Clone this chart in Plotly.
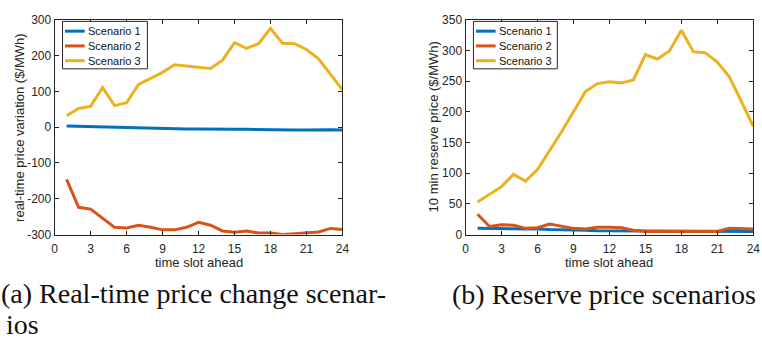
import plotly.graph_objects as go

# ---------------- data ----------------
slots = list(range(1, 25))
series_names = ["Scenario 1", "Scenario 2", "Scenario 3"]
series_colors = ["#0072BD", "#D95319", "#EDB120"]

rt_s1 = [3, 2, 1, 0, -1, -2, -2, -3, -4, -4, -5, -5, -6, -6, -6, -6, -7, -7, -8, -8, -8, -7, -7, -8]
rt_s2 = [-146, -224, -229, -255, -280, -282, -274, -280, -287, -287, -280, -266, -274, -290, -294,
         -290, -296, -296, -300, -298, -296, -293, -283, -286]
rt_s3 = [32, 52, 58, 111, 60, 68, 119, 137, 153, 174, 171, 169, 164, 187, 236, 220, 233, 276,
         234, 233, 217, 191, 148, 104]

res_s1 = [10, 10, 10, 9, 9, 9, 8, 8, 7, 7, 6, 6, 6, 6, 5, 5, 5, 5, 5, 5, 5, 5, 5, 5]
res_s2 = [33, 13, 16, 15, 10, 11, 17, 14, 10, 9, 12, 12, 11, 7, 5, 5, 5, 5, 5, 5, 5, 10, 10, 9]
res_s3 = [53, 66, 78, 98, 87, 106, 136, 167, 200, 233, 246, 249, 247, 252, 293, 286, 299, 333,
          298, 296, 281, 257, 217, 176]

x_ticks = [0, 3, 6, 9, 12, 15, 18, 21, 24]
x_ticktext = ["0", "3", "6", "9", "12", "15", "18", "21", "24"]
rt_ticks = [-300, -200, -100, 0, 100, 200, 300]
rt_ticktext = ["-300", "-200", "-100", "0", "100", "200", "300"]
res_ticks = [0, 50, 100, 150, 200, 250, 300, 350]
res_ticktext = ["0", "50", "100", "150", "200", "250", "300", "350"]

x_title = "time slot ahead"
rt_title = "real-time price variation ($/MWh)"
res_title = "10 min reserve price ($/MWh)"
caption_a1 = "(a) Real-time price change scenar-"
caption_a2 = "ios"
caption_b = "(b) Reserve price scenarios"

# ---------------- layout helpers ----------------
W, H = 762, 339
def px(x):
    return x / W
def py(y):
    return 1 - y / H

AX_TOP, AX_BOT = 13.3, 237.3
L_LEFT, L_RIGHT = 52.3, 344.0
R_LEFT, R_RIGHT = 468.7, 760.3

fig = go.Figure()

for vals, name, col in zip([rt_s1, rt_s2, rt_s3], series_names, series_colors):
    fig.add_trace(go.Scatter(x=slots, y=vals, mode="lines", name=name,
                             line=dict(color=col, width=3), xaxis="x", yaxis="y",
                             showlegend=False))
for vals, name, col in zip([res_s1, res_s2, res_s3], series_names, series_colors):
    fig.add_trace(go.Scatter(x=slots, y=vals, mode="lines", name=name,
                             line=dict(color=col, width=3), xaxis="x2", yaxis="y2",
                             showlegend=False))

tick_font = dict(family="Liberation Sans", size=12, color="#262626")
common = dict(showline=True, linecolor="#262626", linewidth=1, mirror="ticks",
              ticks="inside", ticklen=4, tickcolor="#262626", showgrid=False,
              zeroline=False, tickfont=tick_font, fixedrange=True)

fig.update_layout(
    width=W, height=H,
    margin=dict(l=0, r=0, t=0, b=0),
    paper_bgcolor="white", plot_bgcolor="white",
    showlegend=False,
    xaxis=dict(domain=[px(L_LEFT), px(L_RIGHT)], range=[0, 24], tickvals=x_ticks,
               ticktext=x_ticktext, anchor="y", ticklabelstandoff=3, **common),
    yaxis=dict(domain=[py(AX_BOT), py(AX_TOP)], range=[-300, 300], tickvals=rt_ticks,
               ticktext=rt_ticktext, anchor="x", **common),
    xaxis2=dict(domain=[px(R_LEFT), px(R_RIGHT)], range=[0, 24], tickvals=x_ticks,
                ticktext=x_ticktext, anchor="y2", ticklabelstandoff=3, **common),
    yaxis2=dict(domain=[py(AX_BOT), py(AX_TOP)], range=[0, 350], tickvals=res_ticks,
                ticktext=res_ticktext, anchor="x2", **common),
)

annotations = []
shapes = []
label_font = dict(family="Liberation Sans", size=13, color="#262626")
cap_font = dict(family="Liberation Serif", size=28, color="#111111")

# axis titles
for cx, ytitle, yx in [((L_LEFT + L_RIGHT) / 2, rt_title, 16), ((R_LEFT + R_RIGHT) / 2, res_title, 436)]:
    annotations.append(dict(text=x_title, x=px(cx), y=py(266.5), xref="paper", yref="paper",
                            xanchor="center", yanchor="middle", showarrow=False, font=label_font))
    annotations.append(dict(text=ytitle, x=px(yx), y=py((AX_TOP + AX_BOT) / 2), xref="paper",
                            yref="paper", xanchor="center", yanchor="middle", textangle=-90,
                            showarrow=False, font=label_font))

# captions
annotations.append(dict(text=caption_a1, x=px(-4), y=py(299), xref="paper", yref="paper",
                        xanchor="left", yanchor="middle", showarrow=False, font=cap_font))
annotations.append(dict(text=caption_a2, x=px(1), y=py(331), xref="paper", yref="paper",
                        xanchor="left", yanchor="middle", showarrow=False, font=cap_font))
annotations.append(dict(text=caption_b, x=px(453), y=py(300), xref="paper", yref="paper",
                        xanchor="left", yanchor="middle", showarrow=False, font=cap_font))

# legends (drawn as boxes with sample lines)
leg_font = dict(family="Liberation Sans", size=11, color="#111111")
for left, box_w in [(L_LEFT, 86), (R_LEFT, 85)]:
    bx0 = left + 8
    shapes.append(dict(type="rect", xref="paper", yref="paper", x0=px(bx0), x1=px(bx0 + box_w),
                       y0=py(15), y1=py(64.5), line=dict(color="#262626", width=1),
                       fillcolor="white", layer="above"))
    for i, (name, col) in enumerate(zip(series_names, series_colors)):
        ry = 25.2 + i * 15.4
        shapes.append(dict(type="line", xref="paper", yref="paper", x0=px(bx0 + 2.5),
                           x1=px(bx0 + 22.5), y0=py(ry), y1=py(ry),
                           line=dict(color=col, width=3), layer="above"))
        annotations.append(dict(text=name, x=px(bx0 + 24), y=py(ry), xref="paper", yref="paper",
                                xanchor="left", yanchor="middle", showarrow=False, font=leg_font))

fig.update_layout(annotations=annotations, shapes=shapes)
fig.write_html("out.html")
